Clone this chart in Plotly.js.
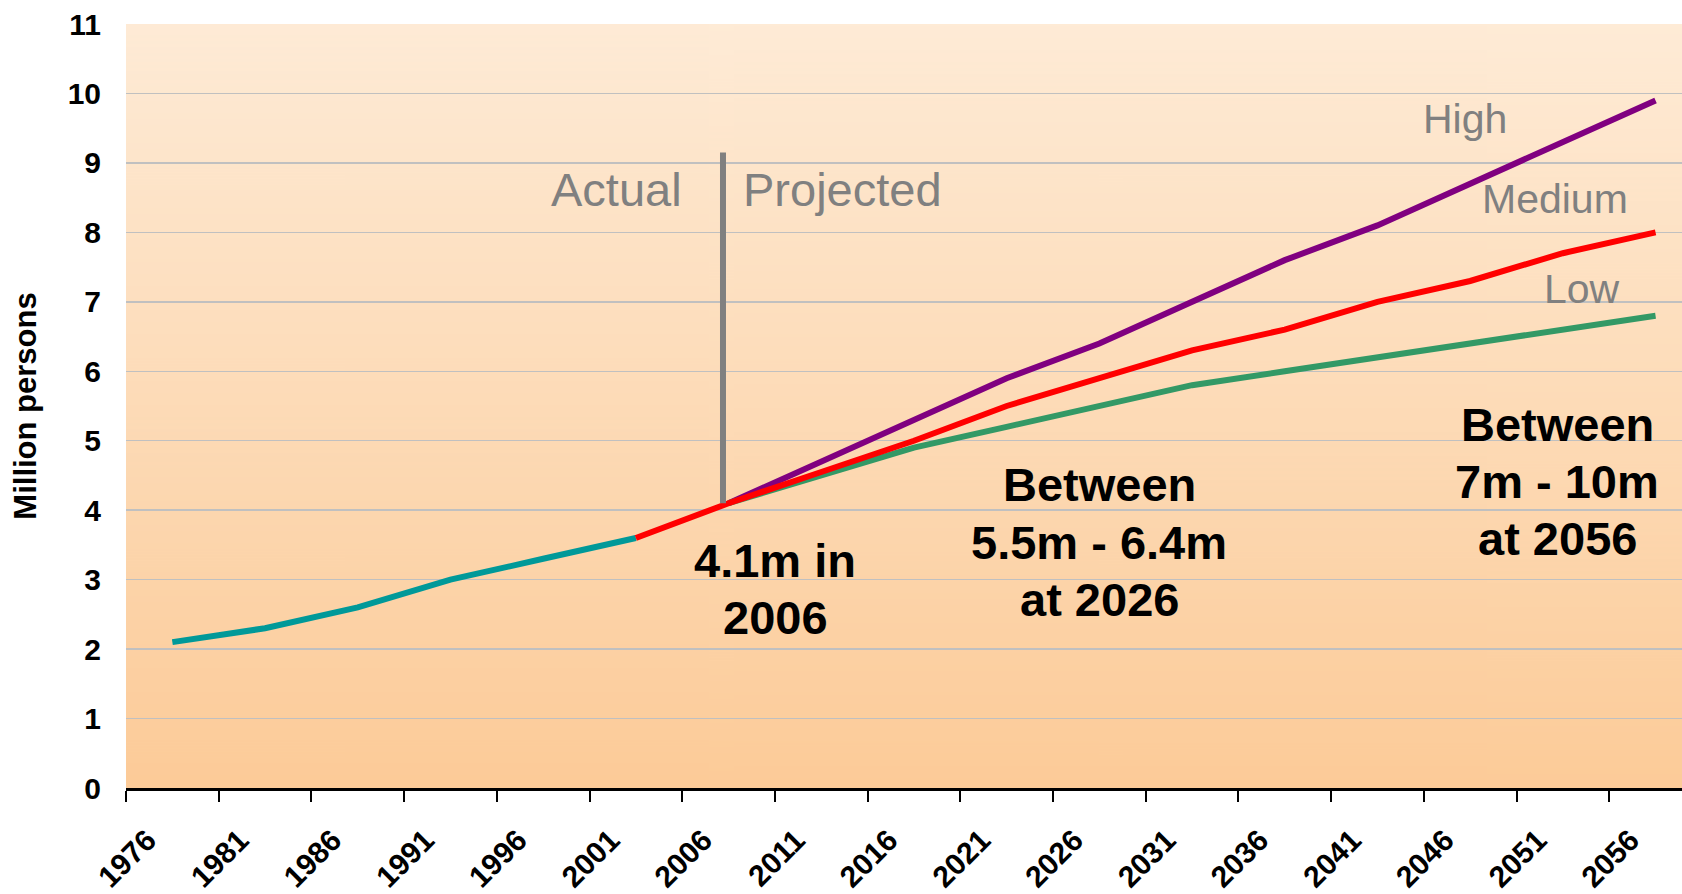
<!DOCTYPE html>
<html>
<head>
<meta charset="utf-8">
<script src="https://cdn.plot.ly/plotly-3.0.1.min.js"></script>
<style>
  html, body { margin: 0; padding: 0; background: #ffffff; }
  #chart { width: 1682px; height: 894px; }
</style>
</head>
<body>
<div id="chart"></div>
<script>
// ---------------- data ----------------
const categories = ['1976','1981','1986','1991','1996','2001','2006','2011','2016','2021','2026','2031','2036','2041','2046','2051','2056'];

const actualYears  = ['1976','1981','1986','1991','1996','2001'];
const actualValues = [2.1, 2.3, 2.6, 3.0, 3.3, 3.6];

const mediumYears  = ['2001','2006','2011','2016','2021','2026','2031','2036','2041','2046','2051','2056'];
const mediumValues = [3.6, 4.1, 4.55, 5.0, 5.5, 5.9, 6.3, 6.6, 7.0, 7.3, 7.7, 8.0];

const projYears  = ['2006','2011','2016','2021','2026','2031','2036','2041','2046','2051','2056'];
const highValues = [4.1, 4.7, 5.3, 5.9, 6.4, 7.0, 7.6, 8.1, 8.7, 9.3, 9.9];
const lowValues  = [4.1, 4.5, 4.9, 5.2, 5.5, 5.8, 6.0, 6.2, 6.4, 6.6, 6.8];

const yTickVals = [0, 1, 2, 3, 4, 5, 6, 7, 8, 9, 10, 11];
const yTitle = 'Million persons';

const dividerYear = '2006';
const dividerTop = 9.15;
const leftLabel = 'Actual';
const rightLabel = 'Projected';
const scenarioLabels = ['High', 'Medium', 'Low'];
const note2006 = ['4.1m in', '2006'];
const note2026 = ['Between', '5.5m - 6.4m', 'at 2026'];
const note2056 = ['Between', '7m - 10m', 'at 2056'];

// ---------------- layout helpers ----------------
const W = 1682, H = 894;
const M = { l: 126, r: 0, t: 24, b: 106 };
const PW = W - M.l - M.r, PH = H - M.t - M.b;
const catWidth = 92.7;
const px = x => (x - M.l) / PW;
const py = y => (H - M.b - y) / PH;

function gradientURL() {
  const c = document.createElement('canvas');
  c.width = 4; c.height = 512;
  const ctx = c.getContext('2d');
  const g = ctx.createLinearGradient(0, 0, 0, 512);
  g.addColorStop(0, 'rgb(254,235,214)');
  g.addColorStop(1, 'rgb(252,203,152)');
  ctx.fillStyle = g;
  ctx.fillRect(0, 0, 4, 512);
  return c.toDataURL('image/png');
}

const FONT = 'Arial, "Liberation Sans", sans-serif';
const grey = '#808080';
const LW = 6;

const traces = [
  { x: actualYears, y: actualValues, mode: 'lines', line: { color: '#009999', width: LW }, hoverinfo: 'skip', showlegend: false },
  { x: projYears, y: highValues, mode: 'lines', line: { color: '#800080', width: LW }, hoverinfo: 'skip', showlegend: false },
  { x: projYears, y: lowValues, mode: 'lines', line: { color: '#339966', width: LW }, hoverinfo: 'skip', showlegend: false },
  { x: mediumYears, y: mediumValues, mode: 'lines', line: { color: '#FF0000', width: LW }, hoverinfo: 'skip', showlegend: false }
];

function ann(text, x, y, size, opts) {
  return Object.assign({
    text: text, xref: 'paper', yref: 'paper', x: px(x), y: py(y),
    showarrow: false, xanchor: 'center', yanchor: 'middle',
    font: { family: FONT, size: size, color: '#000000', weight: 'bold' }
  }, opts || {});
}

const annotations = [
  ann(leftLabel, 684, 189, 47, { xanchor: 'right', font: { family: FONT, size: 47, color: grey } }),
  ann(rightLabel, 741, 189, 47, { xanchor: 'left', font: { family: FONT, size: 47, color: grey } }),
  ann(scenarioLabels[0], 1421, 119, 41, { xanchor: 'left', font: { family: FONT, size: 41, color: grey } }),
  ann(scenarioLabels[1], 1480, 199, 41, { xanchor: 'left', font: { family: FONT, size: 41, color: grey } }),
  ann(scenarioLabels[2], 1542, 289, 41, { xanchor: 'left', font: { family: FONT, size: 41, color: grey } }),
  ann(note2006[0], 775, 560, 47),
  ann(note2006[1], 775, 617, 47),
  ann(note2026[0], 1099, 484, 47),
  ann(note2026[1], 1099, 542, 47),
  ann(note2026[2], 1099, 599, 47),
  ann(note2056[0], 1557, 424, 47),
  ann(note2056[1], 1557, 481, 47),
  ann(note2056[2], 1557, 538, 47)
];

const divIdx = categories.indexOf(dividerYear);
const divBottom = mediumValues[mediumYears.indexOf(dividerYear)];

const layout = {
  width: W, height: H,
  margin: M,
  paper_bgcolor: '#ffffff',
  plot_bgcolor: 'rgba(0,0,0,0)',
  showlegend: false,
  font: { family: FONT, color: '#000000' },
  images: [{
    source: gradientURL(), xref: 'paper', yref: 'paper',
    x: 0, y: 1, sizex: 1, sizey: 1, xanchor: 'left', yanchor: 'top',
    sizing: 'stretch', layer: 'below'
  }],
  xaxis: {
    type: 'category',
    categoryorder: 'array', categoryarray: categories,
    range: [-0.5, -0.5 + PW / catWidth],
    tickson: 'boundaries',
    ticks: 'outside', ticklen: 11, tickwidth: 2, tickcolor: '#000000',
    showline: true, linecolor: '#000000', linewidth: 2.5,
    showgrid: false, zeroline: false,
    tickangle: -45,
    ticklabelshift: -25,
    ticklabelstandoff: 20,
    tickfont: { family: FONT, size: 30, color: '#000000', weight: 'bold' },
    fixedrange: true
  },
  yaxis: {
    range: [0, 11],
    tickmode: 'array', tickvals: yTickVals,
    ticks: '', showline: false, zeroline: false,
    showgrid: true, gridcolor: '#C0C0C0', gridwidth: 1.5,
    tickfont: { family: FONT, size: 30, color: '#000000', weight: 'bold' },
    ticklabelstandoff: 24,
    title: { text: yTitle, standoff: 21, font: { family: FONT, size: 31, color: '#000000', weight: 'bold' } },
    automargin: false,
    fixedrange: true
  },
  shapes: [{
    type: 'line', xref: 'x', yref: 'y',
    x0: divIdx - 0.06, x1: divIdx - 0.06, y0: divBottom, y1: dividerTop,
    line: { color: grey, width: 6 }, layer: 'above'
  }],
  annotations: annotations
};

Plotly.newPlot('chart', traces, layout, { displayModeBar: false, staticPlot: true });
</script>
</body>
</html>
